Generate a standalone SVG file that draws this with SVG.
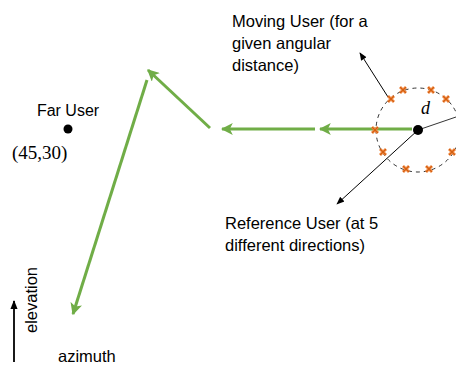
<svg xmlns="http://www.w3.org/2000/svg" width="456" height="368" viewBox="0 0 456 368">
<style>
.t{font-family:"Liberation Sans",Arial,sans-serif;font-size:16.5px;fill:#000}
.f{font-family:"Liberation Sans",Arial,sans-serif;font-size:16px;fill:#000}
.g{stroke:#70AD47;stroke-width:3;fill:none}
.k{stroke:#000;stroke-width:1;fill:none}
</style>
<defs>
<marker id="ga" viewBox="0 0 10 10" refX="9" refY="5" markerWidth="4" markerHeight="4" orient="auto" markerUnits="strokeWidth">
<path d="M0,0 L10,5 L0,10 L2.5,5 Z" fill="#70AD47"/>
</marker>
<marker id="ka" viewBox="0 0 10 10" refX="9" refY="5" markerWidth="8" markerHeight="8" orient="auto" markerUnits="strokeWidth">
<path d="M0,1 L10,5 L0,9 Z" fill="#000"/>
</marker>
<marker id="kb" viewBox="0 0 10 10" refX="9" refY="5" markerWidth="5" markerHeight="5" orient="auto" markerUnits="strokeWidth">
<path d="M0,1 L10,5 L0,9 Z" fill="#000"/>
</marker>
<g id="mk"><path d="M-3,-3 L3,3 M3,-3 L-3,3" stroke="#ED7D31" stroke-width="2.8"/><path d="M-3,-3 L3,3 M3,-3 L-3,3" stroke="#C55A11" stroke-width="0.8"/></g>
</defs>
<rect width="456" height="368" fill="#fff"/>
<g id="connectors">
<line class="g" x1="412" y1="129" x2="320" y2="129" marker-end="url(#ga)"/>
<line class="g" x1="315" y1="129" x2="222" y2="129" marker-end="url(#ga)"/>
<line class="g" x1="210" y1="128" x2="148" y2="70" marker-end="url(#ga)"/>
<line class="g" x1="147" y1="80" x2="73" y2="314" marker-end="url(#ga)"/>
<line class="k" x1="388" y1="97" x2="360" y2="53" marker-end="url(#ka)"/>
<line class="k" x1="418" y1="130" x2="337" y2="204" marker-end="url(#ka)"/>
<line x1="14" y1="362" x2="14" y2="301" stroke="#000" stroke-width="1.8" marker-end="url(#kb)"/>
</g>
<g id="reference-user">
<circle cx="418" cy="130" r="42" fill="none" stroke="#000" stroke-width="0.8" stroke-dasharray="4,4"/>
<line x1="418" y1="130" x2="456" y2="117" stroke="#000" stroke-width="0.8"/>
<text x="421" y="114" font-family="'Liberation Serif',serif" font-style="italic" font-size="18">d</text>
<use href="#mk" x="375" y="130"/>
<use href="#mk" x="391" y="99"/>
<use href="#mk" x="403" y="90"/>
<use href="#mk" x="431" y="90"/>
<use href="#mk" x="446" y="99"/>
<use href="#mk" x="383" y="152"/>
<use href="#mk" x="406" y="169"/>
<use href="#mk" x="429" y="169"/>
<use href="#mk" x="452" y="152"/>
<circle cx="418" cy="130" r="5" fill="#000"/>
</g>
<g id="far-user">
<circle cx="68" cy="129" r="4.5" fill="#000"/>
<text class="f" x="68" y="116" text-anchor="middle">Far User</text>
<text x="12" y="159" font-family="'Liberation Serif',serif" font-size="19">(45,30)</text>
</g>
<g id="moving-label">
<text class="t" x="232" y="27">Moving User (for a</text>
<text class="t" x="232" y="49">given angular</text>
<text class="t" x="232" y="71">distance)</text>
</g>
<g id="reference-label">
<text class="t" x="225" y="229">Reference User (at 5</text>
<text class="t" x="225" y="251">different directions)</text>
</g>
<g id="axes">
<text class="t" transform="translate(37,333) rotate(-90)">elevation</text>
<text class="t" x="58" y="362">azimuth</text>
</g>
</svg>
